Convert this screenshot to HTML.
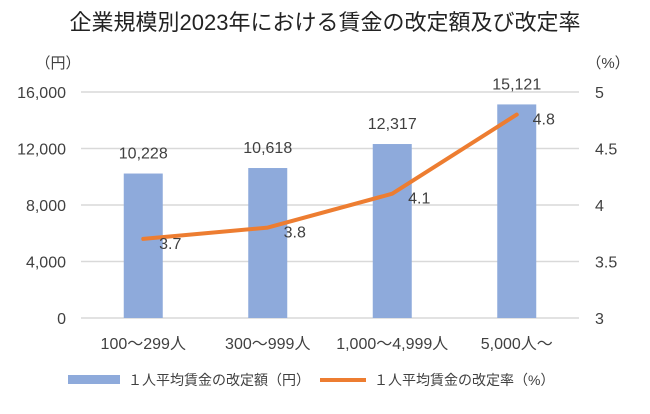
<!DOCTYPE html>
<html><head><meta charset="utf-8">
<style>
body{margin:0;background:#fff;}
svg text{font-family:"Liberation Sans","Noto Sans CJK JP",sans-serif;fill:#404040;}
</style></head><body>
<svg id="c" width="650" height="409" xmlns="http://www.w3.org/2000/svg">
<text x="325" y="30" text-anchor="middle" font-size="22" style="fill:#222">企業規模別2023年における賃金の改定額及び改定率</text>
<text x="58" y="68" text-anchor="middle" font-size="15">（円）</text>
<text x="608" y="68" text-anchor="middle" font-size="15">（%）</text>
<g id="grid"></g><g id="bars"></g><g id="line"></g><g id="labels"></g>
<g>
<rect x="68" y="375" width="52" height="9" fill="#8eaadb"/>
<text x="128" y="385" font-size="14">１人平均賃金の改定額（円）</text>
<line x1="320" y1="380" x2="366" y2="380" stroke="#ed7d31" stroke-width="4"/>
<text x="374" y="385" font-size="14">１人平均賃金の改定率（%）</text>
</g>
</svg>
<script>
const categories=["100～299人","300～999人","1,000～4,999人","5,000人～"];
const amounts=[10228,10618,12317,15121];
const rates=[3.7,3.8,4.1,4.8];
const leftTicks=[0,4000,8000,12000,16000];
const rightTicks=[3,3.5,4,4.5,5];
const NS="http://www.w3.org/2000/svg";
const x0=81,x1=579,yTop=92,yBot=318;
const band=(x1-x0)/categories.length;
const xc=i=>x0+band*(i+0.5);
const yL=v=>yBot-(v/16000)*(yBot-yTop);
const yR=v=>yBot-((v-3)/2)*(yBot-yTop);
function mk(tag,attrs,parent,txt){const e=document.createElementNS(NS,tag);for(const k in attrs)e.setAttribute(k,attrs[k]);if(txt!=null)e.textContent=txt;document.getElementById(parent).appendChild(e);return e;}
const fmt=v=>v.toLocaleString('en-US');
leftTicks.forEach(t=>{
 const l=mk('line',{x1:x0,x2:x1,y1:yL(t),y2:yL(t),stroke:'#d9d9d9','stroke-width':1.5},'grid');
 
 
 const tx=mk('text',{x:66,y:yL(t)+6,'text-anchor':'end','font-size':16},'grid',fmt(t));
 
 
});
rightTicks.forEach(t=>{
 const tx=mk('text',{x:595,y:yR(t)+6,'text-anchor':'start','font-size':16},'grid',String(t));
 
 
});
categories.forEach((c,i)=>{
 const tx=mk('text',{x:xc(i),y:349,'text-anchor':'middle','font-size':16},'labels',c);
 
 
});
amounts.forEach((v,i)=>{
 const r=mk('rect',{x:xc(i)-19.5,y:yL(v),width:39,height:yBot-yL(v),fill:'#8eaadb'},'bars');
 
 
 const tx=mk('text',{x:xc(i),y:yL(v)-15,'text-anchor':'middle','font-size':16},'labels',fmt(v));
 
 
});
const pts=rates.map((v,i)=>xc(i)+','+yR(v)).join(' ');
const pl=mk('polyline',{points:pts,fill:'none',stroke:'#ed7d31','stroke-width':4,'stroke-linejoin':'round','stroke-linecap':'round'},'line');


rates.forEach((v,i)=>{
 const tx=mk('text',{x:xc(i)+27,y:yR(v)+10,'text-anchor':'middle','font-size':16},'labels',String(v));
 
 
});
</script>
</body></html>
